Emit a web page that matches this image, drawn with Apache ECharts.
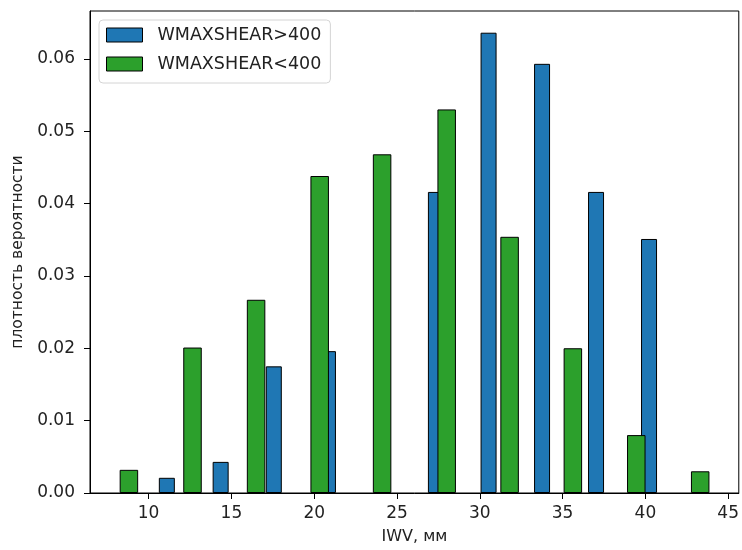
<!DOCTYPE html>
<html>
<head>
<meta charset="utf-8">
<script src="https://cdn.jsdelivr.net/npm/echarts@6/dist/echarts.min.js"></script>
<style>
  html, body { margin: 0; padding: 0; background: #fff; }
  #chart { width: 742px; height: 550px; }
</style>
</head>
<body>
<div id="chart"></div>
<script>
// bin centres (IWV, mm) and densities
var blueCenters = [11.1, 14.35, 17.56, 20.83, 27.35, 30.53, 33.76, 37.02, 40.22];
var blueDensity = [0.0021, 0.0043, 0.0175, 0.0196, 0.0416, 0.0636, 0.0593, 0.0416, 0.0351];
var greenCenters = [8.81, 12.65, 16.49, 20.33, 24.10, 28.0, 31.80, 35.62, 39.45, 43.31];
var greenDensity = [0.0032, 0.0201, 0.0267, 0.0438, 0.0468, 0.0530, 0.0354, 0.0200, 0.0080, 0.0030];
var xTicks = [10, 15, 20, 25, 30, 35, 40, 45];
var yTicks = [0, 0.01, 0.02, 0.03, 0.04, 0.05, 0.06];
var seriesNames = ['WMAXSHEAR>400', 'WMAXSHEAR<400'];

var FONT = 'DejaVu Sans';

function pairs(xs, ys) {
  return xs.map(function (x, i) { return [x, ys[i]]; });
}

var myChart = echarts.init(document.getElementById('chart'));

var xAxisBase = {
  type: 'value',
  min: 6.46,
  max: 45.64,
  splitLine: { show: false }
};

myChart.setOption({
  animation: false,
  textStyle: { fontFamily: FONT },
  grid: {
    left: 90, right: 2, top: 11, bottom: 56,
    show: true, borderColor: '#000', borderWidth: 1
  },
  legend: {
    orient: 'vertical',
    left: 99,
    top: 20,
    data: seriesNames,
    icon: 'rect',
    itemWidth: 36,
    itemHeight: 14,
    itemGap: 11,
    padding: [6, 9, 10, 7],
    backgroundColor: 'rgba(255,255,255,0.8)',
    borderColor: '#d4d4d4',
    borderWidth: 1,
    borderRadius: 4,
    itemStyle: { borderColor: '#000', borderWidth: 1 },
    textStyle: { fontFamily: FONT, fontSize: 17.5, color: '#222', lineHeight: 17, padding: [0, 0, 0, 10] }
  },
  xAxis: [
    Object.assign({}, xAxisBase, {
      name: 'IWV, мм',
      nameLocation: 'middle',
      nameGap: 36,
      nameTextStyle: { fontFamily: FONT, fontSize: 16, color: '#222' },
      axisLine: { onZero: false, lineStyle: { color: '#000', width: 1 } },
      axisTick: { show: true, length: 6, lineStyle: { color: '#000' }, customValues: xTicks },
      axisLabel: { fontFamily: FONT, fontSize: 17, color: '#222', margin: 12, customValues: xTicks }
    }),
    Object.assign({}, xAxisBase, {
      show: false
    })
  ],
  yAxis: {
    type: 'value',
    min: 0,
    max: 0.0666,
    name: 'плотность вероятности',
    nameLocation: 'middle',
    nameRotate: 90,
    nameGap: 62,
    nameTextStyle: { fontFamily: FONT, fontSize: 15.5, color: '#222' },
    splitLine: { show: false },
    axisLine: { show: true, lineStyle: { color: '#000', width: 1 } },
    axisTick: { show: true, length: 6, lineStyle: { color: '#000' }, customValues: yTicks },
    axisLabel: {
      fontFamily: FONT, fontSize: 17, color: '#222', margin: 15,
      customValues: yTicks,
      formatter: function (v) { return v.toFixed(2); }
    }
  },
  series: [
    {
      name: seriesNames[0],
      type: 'bar',
      xAxisIndex: 1,
      barWidth: 16,
      itemStyle: { color: '#1f77b4', borderColor: '#000', borderWidth: 1 },
      data: pairs(blueCenters, blueDensity)
    },
    {
      name: seriesNames[1],
      type: 'bar',
      xAxisIndex: 0,
      barWidth: 18.5,
      itemStyle: { color: '#2ca02c', borderColor: '#000', borderWidth: 1 },
      data: pairs(greenCenters, greenDensity)
    }
  ]
});
</script>
</body>
</html>
